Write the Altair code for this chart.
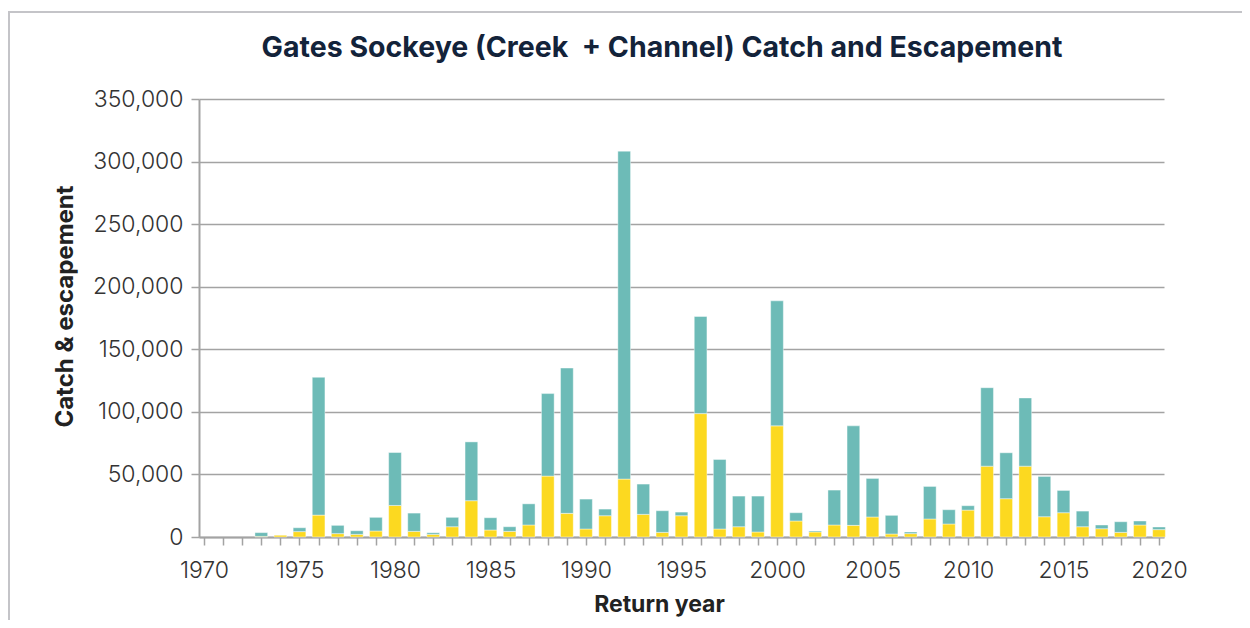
import altair as alt
import pandas as pd

years = list(range(1973, 2021))
catch = [500, 1600, 4300, 17500, 2700, 2100, 4800, 25200, 4500, 2100,
         8200, 29000, 5600, 4500, 9600, 48700, 18900, 6400, 17000, 46300,
         18100, 3700, 17000, 98600, 6400, 8200, 4000, 88800, 12800, 4000,
         9600, 9300, 16000, 2400, 2700, 14400, 10400, 21500, 56600, 30600,
         56600, 16200, 19400, 8200, 6600, 3700, 9600, 5900]
escapement = [3000, 0, 3100, 110100, 6600, 2900, 10900, 42300, 14600, 1300,
              7500, 47000, 9800, 3700, 16900, 65900, 116100, 23900, 5300, 262000,
              24200, 17300, 2900, 77600, 55500, 24500, 28700, 99900, 6600, 800,
              27900, 79500, 30800, 14900, 1300, 26000, 11400, 3500, 62700, 36700,
              54500, 32200, 17800, 12500, 3000, 8500, 3200, 2100]
series_names = ["Catch", "Escapement"]
series_colors = ["#fcd920", "#6dbbb7"]
year_ticks = list(range(1970, 2021))
value_ticks = list(range(0, 350001, 50000))
title_text = "Gates Sockeye (Creek\u00a0 + Channel) Catch and Escapement"

rows = []
for yr, c, e in zip(years, catch, escapement):
    rows.append({"year": yr, "series": series_names[0], "value": c, "ord": 0})
    rows.append({"year": yr, "series": series_names[1], "value": e, "ord": 1})
df = pd.DataFrame(rows)

FONT = "Inter"
GRID = "#a3a3a3"

bars = alt.Chart(df).mark_bar(
    width=12.7, stroke="white", strokeWidth=0.6, strokeOpacity=0.7
).encode(
    x=alt.X(
        "year:Q",
        scale=alt.Scale(domain=[1970, 2020], nice=False, zero=False),
        axis=alt.Axis(
            values=year_ticks,
            format="d",
            labelExpr="datum.value % 5 == 0 ? datum.label : ''",
            title="Return year",
            grid=False,
            tickSize=8,
            tickColor=GRID,
            tickWidth=1.5,
            domainColor=GRID,
            domainWidth=2,
            labelFont=FONT,
            labelFontSize=23,
            labelFontWeight=300,
            labelColor="#333333",
            labelPadding=14,
            labelFlush=False,
            titleFont=FONT,
            titleFontSize=23,
            titleFontWeight="bold",
            titleColor="#222222",
            titlePadding=11,
            titleX=460,
        ),
    ),
    y=alt.Y(
        "value:Q",
        stack="zero",
        scale=alt.Scale(domain=[0, 350000], nice=False),
        axis=alt.Axis(
            values=value_ticks,
            format=",.0f",
            title="Catch & escapement",
            grid=True,
            gridColor=GRID,
            gridWidth=1.5,
            tickSize=8,
            tickColor=GRID,
            tickWidth=1.5,
            domainColor=GRID,
            domainWidth=2,
            labelFont=FONT,
            labelFontSize=23,
            labelFontWeight=300,
            labelColor="#333333",
            labelPadding=8,
            titleFont=FONT,
            titleFontSize=24,
            titleFontWeight="bold",
            titleColor="#222222",
            titlePadding=15,
            titleY=207,
        ),
    ),
    color=alt.Color(
        "series:N",
        scale=alt.Scale(domain=series_names, range=series_colors),
        legend=None,
    ),
    order=alt.Order("ord:Q", sort="ascending"),
)

one_row = pd.DataFrame({"a": [0]})
frame_left = alt.Chart(one_row).mark_rule(color="#c4c4c8", strokeWidth=2).encode(
    x=alt.value(-190), y=alt.value(-88), y2=alt.value(700)
)
frame_top = alt.Chart(one_row).mark_rule(color="#c4c4c8", strokeWidth=2).encode(
    x=alt.value(-191), x2=alt.value(1200), y=alt.value(-87)
)
title_mark = alt.Chart(one_row).mark_text(
    font=FONT, fontSize=28.5, fontWeight="bold", color="#13233a",
    align="center", baseline="alphabetic"
).encode(
    x=alt.value(463), y=alt.value(-42), text=alt.value(title_text)
)

chart = alt.layer(frame_left, frame_top, title_mark, bars).properties(
    width=965,
    height=438,
    autosize=alt.AutoSizeParams(type="none"),
    padding={"left": 191, "top": 91, "right": 78, "bottom": 83},
).configure_view(stroke=None)

chart.save("out.html", embed_options={"renderer": "svg", "actions": False})
